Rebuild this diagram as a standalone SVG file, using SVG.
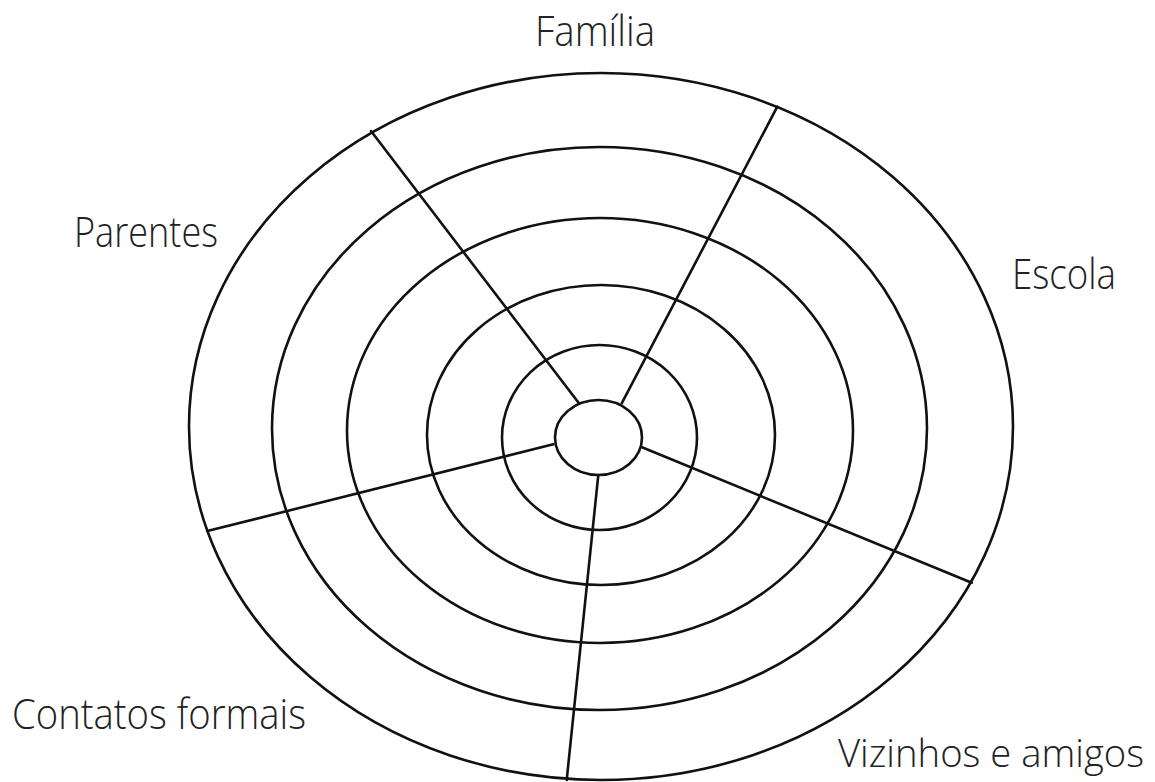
<svg xmlns="http://www.w3.org/2000/svg" width="1155" height="782" viewBox="0 0 1155 782">
<style>
.ring{fill:none;stroke:#111;stroke-width:2.6}
.spoke{fill:none;stroke:#111;stroke-width:2.6;stroke-linecap:round}
.lbl{font-family:"Open Sans","Noto Sans","Liberation Sans",sans-serif;font-weight:300;font-size:42px;fill:#222}
</style>
<rect width="1155" height="782" fill="#fff"/>
<g id="rings">
<ellipse id="ring6" class="ring" cx="601" cy="426.5" rx="412" ry="353.5"/>
<ellipse id="ring5" class="ring" cx="599.5" cy="428.5" rx="327.5" ry="281.5"/>
<ellipse id="ring4" class="ring" cx="600" cy="430.5" rx="253" ry="212.5"/>
<ellipse id="ring3" class="ring" cx="601" cy="435" rx="174" ry="150"/>
<ellipse id="ring2" class="ring" cx="599.5" cy="437.5" rx="97.5" ry="92.5"/>
<ellipse id="ring1" class="ring" cx="598.5" cy="437.5" rx="43.5" ry="37.5"/>
</g>
<g id="connectors">
<line class="spoke" x1="578" y1="402" x2="371" y2="131"/>
<line class="spoke" x1="621.7" y1="403.3" x2="777.3" y2="106.7"/>
<line class="spoke" x1="642" y1="447.3" x2="971.7" y2="582.7"/>
<line class="spoke" x1="598.3" y1="475" x2="566.7" y2="780"/>
<line class="spoke" x1="553.3" y1="444.3" x2="207.3" y2="531"/>
</g>
<g id="familia"><text class="lbl" x="535" y="46" textLength="120" lengthAdjust="spacingAndGlyphs">Família</text></g>
<g id="parentes"><text class="lbl" x="74" y="247" textLength="144" lengthAdjust="spacingAndGlyphs">Parentes</text></g>
<g id="escola"><text class="lbl" x="1012" y="289" textLength="104" lengthAdjust="spacingAndGlyphs">Escola</text></g>
<g id="contatos"><text class="lbl" x="12" y="729" textLength="294" lengthAdjust="spacingAndGlyphs">Contatos formais</text></g>
<g id="vizinhos"><text class="lbl" x="838" y="767" textLength="306" lengthAdjust="spacingAndGlyphs" style="font-size:39px">Vizinhos e amigos</text></g>
</svg>
